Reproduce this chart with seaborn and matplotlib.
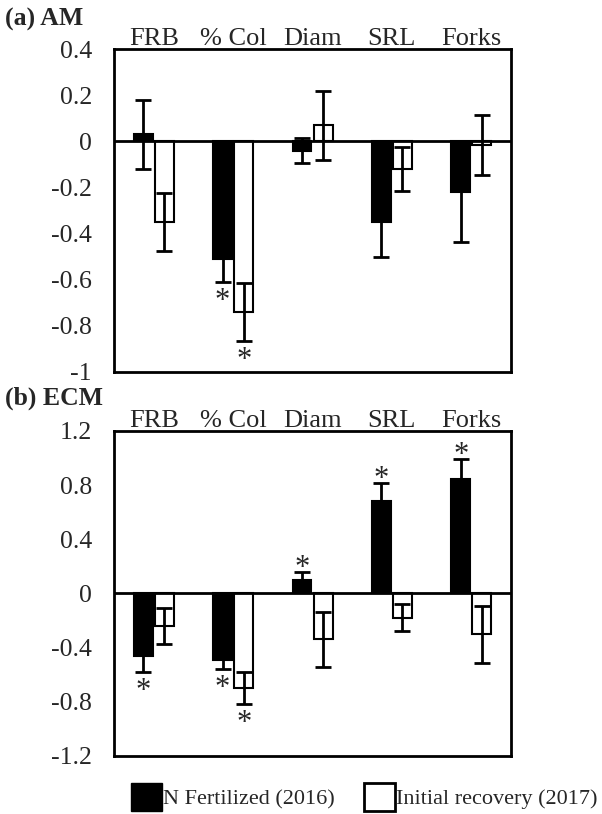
import numpy as np
import pandas as pd
import seaborn as sns
import matplotlib.pyplot as plt
from matplotlib.patches import Patch
from matplotlib.ticker import FuncFormatter

# Data
categories = ["FRB", "% Col", "Diam", "SRL", "Forks"]
groups = ["N Fertilized (2016)", "Initial recovery (2017)"]

am_fert = [0.03, -0.51, -0.04, -0.35, -0.22]
am_fert_err = [0.15, 0.10, 0.055, 0.15, 0.215]
am_fert_sig = [False, True, False, False, False]
am_recov = [-0.35, -0.74, 0.07, -0.12, -0.015]
am_recov_err = [0.125, 0.125, 0.15, 0.095, 0.13]
am_recov_sig = [False, True, False, False, False]

ecm_fert = [-0.46, -0.49, 0.10, 0.685, 0.845]
ecm_fert_err = [0.12, 0.07, 0.055, 0.13, 0.145]
ecm_fert_sig = [True, True, True, True, True]
ecm_recov = [-0.24, -0.70, -0.34, -0.18, -0.30]
ecm_recov_err = [0.13, 0.12, 0.20, 0.10, 0.21]
ecm_recov_sig = [False, True, False, False, False]

sns.set_theme(style="white")
plt.rcParams["font.family"] = ["Liberation Serif", "DejaVu Serif"]
plt.rcParams["axes.unicode_minus"] = False


def draw_panel(ax, fert, recov, errs, sigs, ylim, step):
    df = pd.DataFrame({
        "trait": categories * 2,
        "group": [groups[0]] * len(categories) + [groups[1]] * len(categories),
        "value": fert + recov,
    })
    sns.barplot(data=df, x="trait", y="value", hue="group",
                order=categories, hue_order=groups,
                palette=["black", "white"], saturation=1,
                width=0.53, gap=0.1, edgecolor="black", linewidth=1.5,
                errorbar=None, legend=False, ax=ax, zorder=2)

    # error bars and significance stars on top of each bar
    for container, vals, err, sig in zip(ax.containers, [fert, recov], errs, sigs):
        xs = [b.get_x() + b.get_width() / 2 for b in container]
        ax.errorbar(xs, vals, yerr=err, fmt="none", ecolor="black",
                    elinewidth=2, capsize=6, capthick=2, zorder=3)
        for x, v, e, s in zip(xs, vals, err, sig):
            if not s:
                continue
            if v < 0:
                ax.annotate("*", (x, v - e), xytext=(0, -14), textcoords="offset points",
                            ha="center", va="center", fontsize=22)
            else:
                ax.annotate("*", (x, v + e), xytext=(0, 2.5), textcoords="offset points",
                            ha="center", va="center", fontsize=22)

    ax.axhline(0, color="black", lw=2, zorder=4)
    ax.set_xlim(-0.5, len(categories) - 0.5)
    ax.set_ylim(*ylim)
    ax.set_yticks(np.round(np.arange(ylim[0], ylim[1] + step / 2, step), 2))
    ax.yaxis.set_major_formatter(FuncFormatter(lambda v, p: f"{round(v, 2) + 0.0:g}"))
    ax.xaxis.tick_top()
    ax.tick_params(axis="x", length=0, pad=-1, labelsize=19)
    ax.tick_params(axis="y", length=0, pad=16, labelsize=18.5)
    ax.set_xlabel("")
    ax.set_ylabel("")
    for sp in ax.spines.values():
        sp.set_visible(True)
        sp.set_color("black")
        sp.set_linewidth(2)


fig = plt.figure(figsize=(6.02, 8.14), dpi=100)
ax1 = fig.add_axes([0.1894, 0.5430, 0.6595, 0.3968])
ax2 = fig.add_axes([0.1894, 0.0713, 0.6595, 0.3993])

draw_panel(ax1, am_fert, am_recov, [am_fert_err, am_recov_err],
           [am_fert_sig, am_recov_sig], (-1, 0.4), 0.2)
draw_panel(ax2, ecm_fert, ecm_recov, [ecm_fert_err, ecm_recov_err],
           [ecm_fert_sig, ecm_recov_sig], (-1.2, 1.2), 0.4)

fig.text(0.008, 1 - 26 / 814, "(a) AM", fontsize=18.5, weight="bold", va="baseline")
fig.text(0.008, 1 - 405 / 814, "(b) ECM", fontsize=18.5, weight="bold", va="baseline")

handles = [Patch(facecolor="black", edgecolor="black"),
           Patch(facecolor="white", edgecolor="black", linewidth=2)]
fig.legend(handles, groups, loc="lower center", bbox_to_anchor=(0.605, -0.016),
           ncol=2, frameon=False, fontsize=16, handlelength=1.4, handleheight=1.6,
           handletextpad=0.05, columnspacing=1.3, borderpad=0.2)

fig.savefig("out.png", dpi=100)
